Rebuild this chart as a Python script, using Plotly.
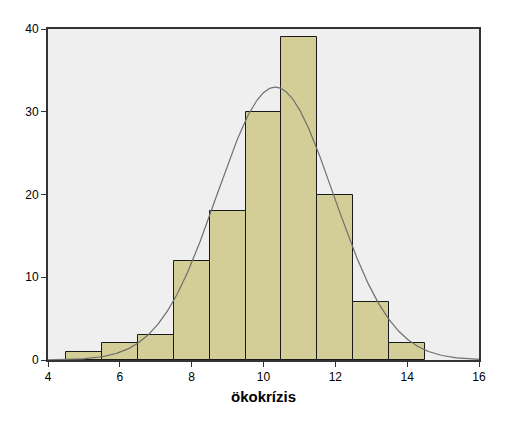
import numpy as np
import plotly.graph_objects as go

bin_centers = [5, 6, 7, 8, 9, 10, 11, 12, 13, 14]
counts = [1, 2, 3, 12, 18, 30, 39, 20, 7, 2]
x_ticks = [4, 6, 8, 10, 12, 14, 16]
y_ticks = [0, 10, 20, 30, 40]
x_title = "ökokrízis"

# normal curve fitted to the histogram (as SPSS does)
c = np.array(bin_centers, dtype=float)
w = np.array(counts, dtype=float)
n = w.sum()
mean = (c * w).sum() / n
sd = np.sqrt(((c - mean) ** 2 * w).sum() / (n - 1))
xs = np.linspace(4, 16, 400)
ys = n * 1.0 / (sd * np.sqrt(2 * np.pi)) * np.exp(-0.5 * ((xs - mean) / sd) ** 2)

fig = go.Figure()
fig.add_trace(go.Bar(
    x=bin_centers, y=counts, width=1,
    marker=dict(color="#d3ce97", line=dict(color="#1a1a1a", width=1)),
    showlegend=False, hoverinfo="skip",
))
fig.add_trace(go.Scatter(
    x=xs, y=ys, mode="lines",
    line=dict(color="#6e6e6e", width=1.2),
    showlegend=False, hoverinfo="skip",
))

# page body has an 8px margin, so the figure is shrunk/shifted to compensate
fig.update_layout(
    width=501, height=423,
    margin=dict(l=40, r=30, t=21, b=71),
    paper_bgcolor="white",
    plot_bgcolor="#efefef",
    bargap=0,
    font=dict(family="Liberation Sans, Arial, sans-serif", size=12, color="black"),
    xaxis=dict(
        range=[4, 16], tickvals=x_ticks, ticks="outside", ticklen=5,
        tickcolor="#333", showgrid=False, zeroline=False,
        showline=True, linecolor="#333", linewidth=2, mirror=True,
        title=dict(text="<b>" + x_title + "</b>", font=dict(size=15), standoff=8),
        tickfont=dict(size=12),
    ),
    yaxis=dict(
        range=[0, 40], tickvals=y_ticks, ticks="outside", ticklen=5,
        tickcolor="#333", showgrid=False, zeroline=False,
        showline=True, linecolor="#333", linewidth=2, mirror=True,
        tickfont=dict(size=12),
    ),
)

fig.write_html("out.html")
